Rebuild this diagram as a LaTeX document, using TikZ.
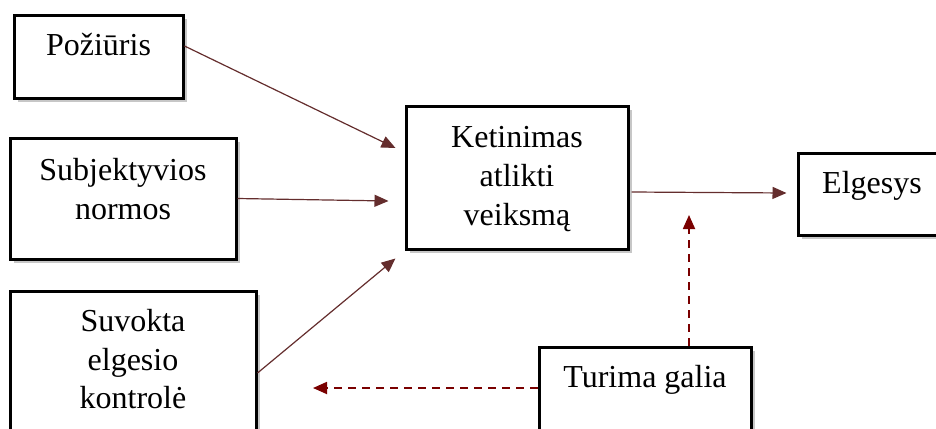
\documentclass[tikz,border=0pt]{standalone}
\usepackage{fontspec}
\setmainfont{Liberation Serif}
\usetikzlibrary{arrows.meta,shadows,calc}
\definecolor{arrbrown}{RGB}{100,45,45}
\definecolor{arrmaroon}{RGB}{122,0,0}
\tikzset{
  box/.style={draw=black, line width=1.5pt, fill=white, rectangle, inner sep=0pt,
    drop shadow={shadow xshift=1.8pt, shadow yshift=-1.8pt, fill=black, opacity=0.22}},
  lbl/.style={font=\fontsize{16}{19.5}\selectfont, inner sep=0pt, anchor=base},
  arr/.style={draw=arrbrown, line width=0.6pt, -{Triangle[length=7pt,width=6pt]}},
  darr/.style={draw=arrmaroon, line width=0.9pt, dash pattern=on 4pt off 3pt,
    -{Triangle[length=7pt,width=6pt]}}
}
\begin{document}
\begin{tikzpicture}[x=0.5pt,y=-0.5pt]
\useasboundingbox (0,0) rectangle (936,428);
\clip (0,0) rectangle (936,428);
% boxes
\node[box, minimum width=84.5pt, minimum height=41.5pt] (pz) at (98.5,56.5) {};
\node[box, minimum width=113pt, minimum height=60.5pt] (sn) at (123,198.5) {};
\node[box, minimum width=123pt, minimum height=82pt] (sk) at (133,373) {};
\node[box, minimum width=111pt, minimum height=71.5pt] (kt) at (517,177.5) {};
\node[box, minimum width=75pt, minimum height=41pt] (el) at (873,194) {};
\node[box, minimum width=106pt, minimum height=56.5pt] (tg) at (645,403.5) {};
% labels
\node[lbl] (pzt) at (98.5,55) {Požiūris};
\node[lbl] (snt1) at (123,180) {Subjektyvios};
\node[lbl] (snt2) at (123,219) {normos};
\node[lbl] (skt1) at (133,331) {Suvokta};
\node[lbl] (skt2) at (133,370) {elgesio};
\node[lbl] (skt3) at (133,408) {kontrolė};
\node[lbl] (ktt1) at (517,147) {Ketinimas};
\node[lbl] (ktt2) at (517,186) {atlikti};
\node[lbl] (ktt3) at (517,225) {veiksmą};
\node[lbl] (elt) at (872,193) {Elgesys};
\node[lbl] (tgt) at (645,387) {Turima galia};
% free ends
\coordinate (tipL) at (313,388);
\coordinate (tipU) at (689,215);
% connectors
\draw[arr] ($(pz.east)+(0,-10.5)$) -- ($(kt.west)+(-9,-29.5)$);
\draw[arr] (sn.east) -- ($(kt.west)+(-16,23.5)$);
\draw[arr] (sk.east) -- ($(kt.south west)+(-9,8)$);
\draw[arr] ($(kt.east)+(2,14.5)$) -- ($(el.west)+(-10,-1)$);
\draw[darr] ($(tg.north)+(44,0)$) -- (tipU);
\draw[darr] ($(tg.west)+(0,-15.5)$) -- (tipL);
\end{tikzpicture}
\end{document}
